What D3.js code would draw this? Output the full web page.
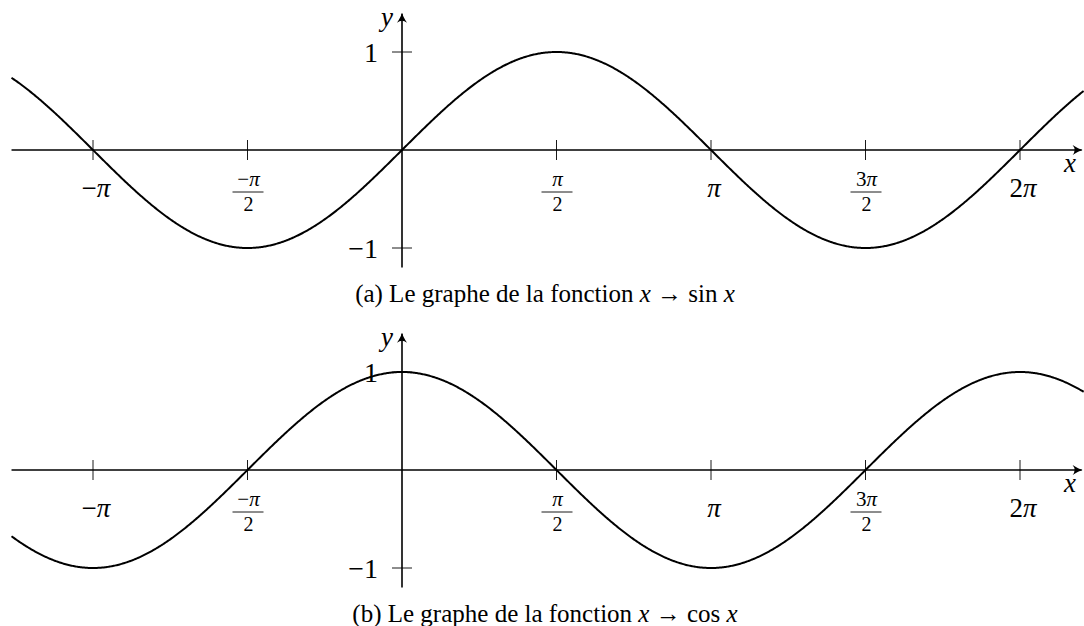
<!DOCTYPE html>
<html>
<head>
<meta charset="utf-8">
<script src="https://cdn.jsdelivr.net/npm/d3@7"></script>
<style>
  html, body { margin: 0; padding: 0; background: #fff; }
  svg { display: block; }
  text { font-family: "Liberation Serif", "DejaVu Serif", serif; fill: #000; }
</style>
</head>
<body>
<svg id="chart" width="1084" height="626"></svg>
<script>
// Tick positions (in multiples of pi) and their labels
const xTicks = [-1, -0.5, 0.5, 1, 1.5, 2];
const xTickLabels = [
  { num: "−π" },
  { num: "−π", den: "2" },
  { num: "π", den: "2" },
  { num: "π" },
  { num: "3π", den: "2" },
  { num: "2π" }
];
const yTicks = [1, -1];
const yTickLabels = ["1", "−1"];

// The two plotted functions and their captions
const panels = [
  { name: "sin", f: Math.sin, caption: "(a)", originY: 150 },
  { name: "cos", f: Math.cos, caption: "(b)", originY: 470 }
];

// Visible x range
const xMin = -3.97, xMax = 6.93;

const svg = d3.select("#chart");
const x = d3.scaleLinear().domain([0, Math.PI]).range([402, 711]);
const unitY = 98;

// arrow head marker
const defs = svg.append("defs");
defs.append("marker")
  .attr("id", "arrow")
  .attr("viewBox", "-10 -6 12 12")
  .attr("refX", 0).attr("refY", 0)
  .attr("markerWidth", 12).attr("markerHeight", 12)
  .attr("markerUnits", "userSpaceOnUse")
  .attr("orient", "auto")
  .append("path")
  .attr("d", "M-9,-5 Q-3,-1 1,0 Q-3,1 -9,5 Q-5,0 -9,-5 Z")
  .attr("fill", "#000");

panels.forEach(p => {
  const y = d3.scaleLinear().domain([0, 1]).range([p.originY, p.originY - unitY]);
  const g = svg.append("g");

  // x axis
  g.append("line")
    .attr("x1", x(xMin)).attr("x2", x(xMax) - 2)
    .attr("y1", y(0)).attr("y2", y(0))
    .attr("stroke", "#000").attr("stroke-width", 1.6)
    .attr("marker-end", "url(#arrow)");

  // y axis
  g.append("line")
    .attr("x1", x(0)).attr("x2", x(0))
    .attr("y1", y(-1.2)).attr("y2", y(1.39))
    .attr("stroke", "#000").attr("stroke-width", 1.6)
    .attr("marker-end", "url(#arrow)");

  // x ticks
  xTicks.forEach((t, i) => {
    const px = x(t * Math.PI);
    g.append("line")
      .attr("x1", px).attr("x2", px)
      .attr("y1", y(0) - 10).attr("y2", y(0) + 10)
      .attr("stroke", "#000").attr("stroke-width", 0.9);
    const lab = xTickLabels[i];
    if (lab.den) {
      const nx = g.append("text").attr("x", px + 1).attr("y", y(0) + 36)
        .attr("text-anchor", "middle").style("font-size", "21px");
      const m = lab.num.match(/^(.*?)(π)$/);
      nx.append("tspan").text(m[1]);
      nx.append("tspan").style("font-style", "italic").text(m[2]);
      g.append("line")
        .attr("x1", px - 15).attr("x2", px + 16)
        .attr("y1", y(0) + 42).attr("y2", y(0) + 42)
        .attr("stroke", "#000").attr("stroke-width", 0.9);
      g.append("text").attr("x", px + 1).attr("y", y(0) + 61)
        .attr("text-anchor", "middle").style("font-size", "20px")
        .text(lab.den);
    } else {
      const tx = g.append("text").attr("x", px + 3).attr("y", y(0) + 47)
        .attr("text-anchor", "middle").style("font-size", "27px");
      const m = lab.num.match(/^(.*?)(π)$/);
      tx.append("tspan").text(m[1]);
      tx.append("tspan").style("font-style", "italic").text(m[2]);
    }
  });

  // y ticks
  yTicks.forEach((t, i) => {
    g.append("line")
      .attr("x1", x(0) - 10).attr("x2", x(0) + 10)
      .attr("y1", y(t)).attr("y2", y(t))
      .attr("stroke", "#000").attr("stroke-width", 0.9);
    g.append("text").attr("x", x(0) - 24).attr("y", y(t) + 10)
      .attr("text-anchor", "end").style("font-size", "28px")
      .text(yTickLabels[i]);
  });

  // axis names
  g.append("text").attr("x", x(0) - 9).attr("y", y(0) - 124)
    .attr("text-anchor", "end").style("font-size", "27px").style("font-style", "italic")
    .text("y");
  g.append("text").attr("x", 1070).attr("y", y(0) + 22)
    .attr("text-anchor", "middle").style("font-size", "27px").style("font-style", "italic")
    .text("x");

  // function curve
  const pts = d3.range(xMin, xMax + 0.001, 0.01).map(v => [v, p.f(v)]);
  g.append("path")
    .datum(pts)
    .attr("d", d3.line().x(d => x(d[0])).y(d => y(d[1])))
    .attr("fill", "none").attr("stroke", "#000").attr("stroke-width", 2);

  // caption
  const cap = g.append("text").attr("x", 545).attr("y", y(-1.55))
    .attr("text-anchor", "middle").style("font-size", "25px");
  cap.append("tspan").text(p.caption + " Le graphe de la fonction ");
  cap.append("tspan").style("font-style", "italic").text("x");
  cap.append("tspan").text(" → " + p.name + " ");
  cap.append("tspan").style("font-style", "italic").text("x");
});
</script>
</body>
</html>
